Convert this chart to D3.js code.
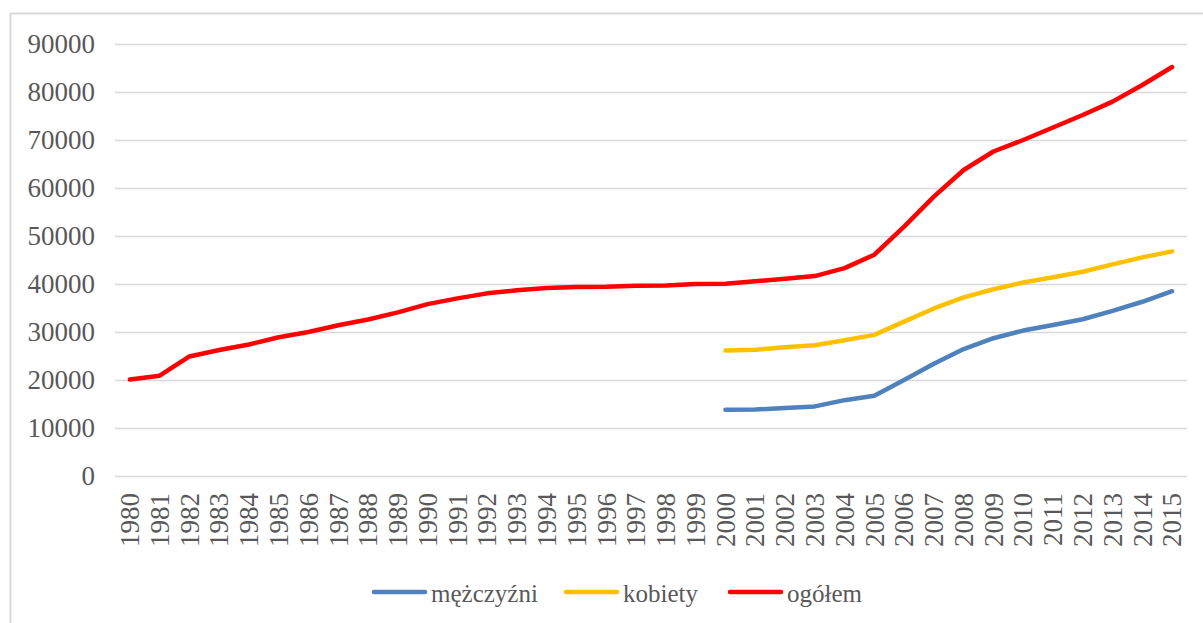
<!DOCTYPE html>
<html>
<head>
<meta charset="utf-8">
<script src="https://cdn.jsdelivr.net/npm/d3@7"></script>
<style>
  html, body { margin: 0; padding: 0; background: #fff; }
  svg { display: block; }
</style>
</head>
<body>
<svg id="chart" width="1203" height="623"></svg>
<script>
const years = ["1980","1981","1982","1983","1984","1985","1986","1987","1988","1989","1990","1991","1992","1993","1994","1995","1996","1997","1998","1999","2000","2001","2002","2003","2004","2005","2006","2007","2008","2009","2010","2011","2012","2013","2014","2015"];
const yTicks = [0,10000,20000,30000,40000,50000,60000,70000,80000,90000];
const seriesNames = ["mężczyźni","kobiety","ogółem"];
const seriesColors = ["#4F81BD","#FFC000","#FF0000"];
// values start in 2000 for mężczyźni and kobiety
const menYears = ["2000","2001","2002","2003","2004","2005","2006","2007","2008","2009","2010","2011","2012","2013","2014","2015"];
const menValues = [13800,13850,14150,14500,15800,16700,20000,23400,26450,28700,30300,31450,32650,34400,36300,38500];
const womenValues = [26150,26300,26800,27250,28300,29400,32150,34900,37200,38900,40300,41400,42550,44100,45550,46800];
const totalValues = [20100,20900,24900,26250,27400,28900,30000,31400,32600,34100,35800,37000,38050,38700,39150,39400,39450,39650,39700,40000,40050,40550,41100,41650,43300,46100,51950,58200,63750,67600,70000,72600,75200,78000,81450,85200];

const svg = d3.select("#chart");
const font = "'Liberation Serif', 'DejaVu Serif', serif";
const textColor = "#595959";

// outer frame
svg.append("line").attr("x1",10).attr("x2",1203).attr("y1",13.5).attr("y2",13.5)
  .attr("stroke","#d9d9d9").attr("stroke-width",2);
svg.append("line").attr("x1",10.5).attr("x2",10.5).attr("y1",13).attr("y2",623)
  .attr("stroke","#d9d9d9").attr("stroke-width",2);

const plot = {left:115, right:1187, top:44, bottom:476};
const x = d3.scaleBand().domain(years).range([plot.left, plot.right]);
const y = d3.scaleLinear().domain([0,90000]).range([plot.bottom, plot.top]);
const cx = d => x(d) + x.bandwidth()/2;

// gridlines
const yAxis = d3.axisLeft(y).tickValues(yTicks).tickSize(-(plot.right-plot.left)).tickPadding(20).tickFormat(d3.format("d"));
const gy = svg.append("g").attr("transform",`translate(${plot.left},0)`).call(yAxis);
gy.select(".domain").remove();
gy.selectAll(".tick line").attr("stroke","#d9d9d9").attr("stroke-width",1.3);
gy.selectAll(".tick text").attr("fill",textColor).style("font-family",font).style("font-size","27px");

// x axis labels
const xAxis = d3.axisBottom(x).tickSize(0).tickPadding(0);
const gx = svg.append("g").attr("transform",`translate(0,${plot.bottom})`).call(xAxis);
gx.select(".domain").remove();
gx.selectAll(".tick text")
  .attr("fill",textColor).style("font-family",font).style("font-size","27px")
  .attr("text-anchor","end")
  .attr("transform","rotate(-90)")
  .attr("x",-17).attr("y",0).attr("dy","0.34em");

const line = d3.line().x(d => cx(d[0])).y(d => y(d[1]));
const data = [
  d3.zip(menYears, menValues),
  d3.zip(menYears, womenValues),
  d3.zip(years, totalValues)
];
data.forEach((d,i) => {
  svg.append("path").datum(d).attr("d",line)
    .attr("fill","none").attr("stroke",seriesColors[i]).attr("stroke-width",4.5)
    .attr("stroke-linejoin","round").attr("stroke-linecap","round");
});

// legend
const legendX = [372, 564, 728];
const legendY = 592;
seriesNames.forEach((n,i) => {
  const g = svg.append("g").attr("transform",`translate(${legendX[i]},${legendY})`);
  g.append("line").attr("x1",2).attr("x2",53).attr("y1",0).attr("y2",0)
    .attr("stroke",seriesColors[i]).attr("stroke-width",4.5).attr("stroke-linecap","round");
  g.append("text").attr("x",59).attr("y",10)
    .attr("fill",textColor).style("font-family",font).style("font-size","25px").text(n);
});
</script>
</body>
</html>
